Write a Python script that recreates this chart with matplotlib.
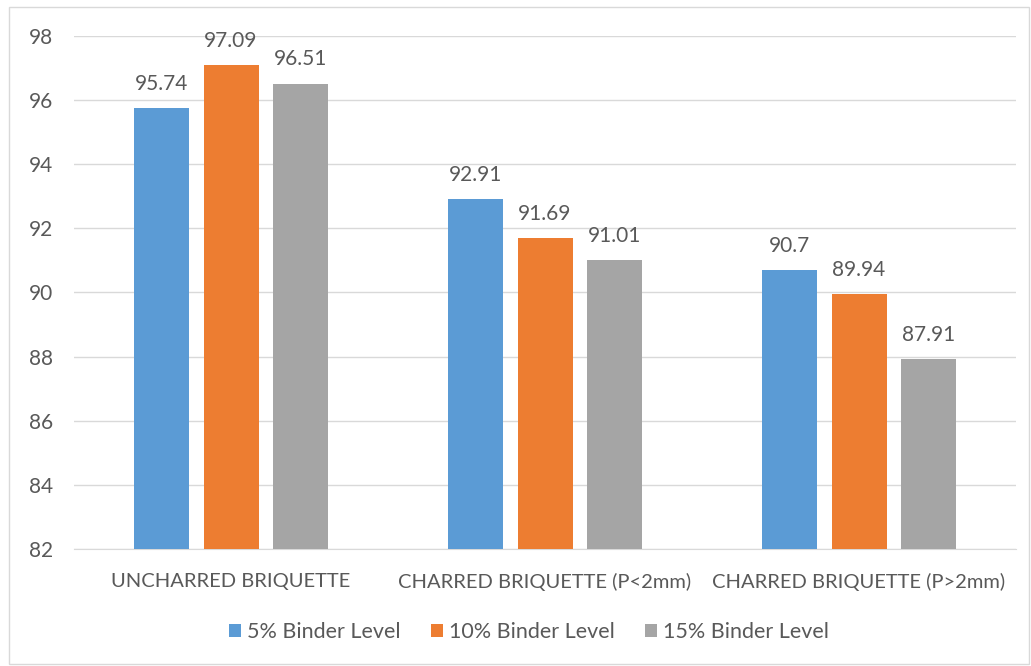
import matplotlib.pyplot as plt
import numpy as np
from matplotlib.patches import Rectangle

categories = ["UNCHARRED BRIQUETTE", "CHARRED BRIQUETTE (P<2mm)", "CHARRED BRIQUETTE (P>2mm)"]
series_names = ["5% Binder Level", "10% Binder Level", "15% Binder Level"]
binder_5 = [95.74, 92.91, 90.7]
binder_10 = [97.09, 91.69, 89.94]
binder_15 = [96.51, 91.01, 87.91]
yticks = [82, 84, 86, 88, 90, 92, 94, 96, 98]

colors = ["#5B9BD5", "#ED7D31", "#A5A5A5"]
text_color = "#595959"
plt.rcParams["font.family"] = ["Lato", "DejaVu Sans"]

fig = plt.figure(figsize=(10.31, 6.66), dpi=100)
ax = fig.add_axes([0.0718, 0.1757, 0.9137, 0.7703])

x = np.arange(len(categories))
width = 0.175
step = 0.221
for i, (vals, name) in enumerate(zip([binder_5, binder_10, binder_15], series_names)):
    pos = x + (i - 1) * step
    ax.bar(pos, np.array(vals) - 82, width, bottom=82, color=colors[i], label=name, zorder=3)
    for p, v in zip(pos, vals):
        ax.text(p, v + 0.45, f"{v:g}", ha="center", va="bottom", fontsize=15, color=text_color)

ax.set_xlim(-0.5, 2.5)
ax.set_ylim(82, 98)
ax.set_yticks(yticks)
ax.set_xticks(x)
ax.set_xticklabels(categories)
ax.tick_params(axis="both", length=0, colors=text_color, labelsize=14.5)
ax.tick_params(axis="y", labelsize=15, pad=15)
ax.tick_params(axis="x", pad=17)
ax.grid(axis="y", color="#D9D9D9", linewidth=1, zorder=0)
for s in ["top", "right", "left"]:
    ax.spines[s].set_visible(False)
ax.spines["bottom"].set_color("#D9D9D9")

leg = fig.legend(loc="center", bbox_to_anchor=(0.513, 0.051), ncol=3, frameon=False,
                 fontsize=15.5, handlelength=0.55, handleheight=0.55, handletextpad=0.3,
                 columnspacing=1.4)
for t in leg.get_texts():
    t.set_color(text_color)

fig.patches.append(Rectangle((9 / 1031, 2 / 666), 1020 / 1031, 657 / 666, transform=fig.transFigure,
                             fill=False, edgecolor="#D9D9D9", linewidth=1))

fig.savefig("out.png", dpi=100)
